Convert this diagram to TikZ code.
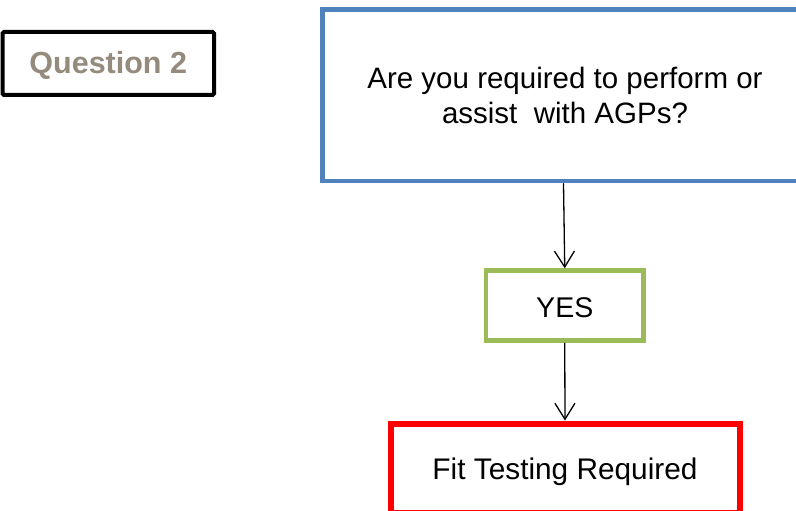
\documentclass[tikz,border=0pt]{standalone}
\usepackage{fontspec}
\setmainfont{Liberation Sans}
\usetikzlibrary{arrows.meta}
\definecolor{qbrown}{HTML}{948B7D}
\definecolor{qblue}{HTML}{4F81BD}
\definecolor{qgreen}{HTML}{9BBB59}
\definecolor{qred}{HTML}{FF0000}
\begin{document}
\begin{tikzpicture}[x=1pt,y=-1pt,
  box/.style={draw, rectangle, fill=white, inner sep=0pt},
  conn/.style={draw=black, line width=1.3pt, -{Straight Barb[length=16pt,width=20pt]}},
  bigtext/.style={font=\fontsize{29.5pt}{35pt}\selectfont}]
\useasboundingbox (0,0) rectangle (796,511);
\clip (0,0) rectangle (796,511);
\node[box, draw=black, line width=4pt, rounded corners=1.5pt,
      minimum width=211.5pt, minimum height=63pt, text=qbrown,
      font=\bfseries\fontsize{30.5pt}{35pt}\selectfont,
      text height=21pt, text depth=0pt] (q) at (108.25,63.5) {Question 2};
\node[box, draw=qblue, line width=4.5pt, minimum width=485pt, minimum height=171.5pt,
      align=center, bigtext] (blue) at (565,95.25)
      {Are you required to perform or\\assist\ \ with AGPs?};
\node[box, draw=qgreen, line width=4.5pt, minimum width=157.5pt, minimum height=70pt,
      font=\fontsize{28.5pt}{34pt}\selectfont, text height=23pt, text depth=0pt]
      (yes) at (564.75,305.5) {YES};
\node[box, draw=qred, line width=6pt, minimum width=349pt, minimum height=89.5pt,
      font=\fontsize{29.8pt}{35pt}\selectfont, text height=21.5pt, text depth=0pt]
      (fit) at (565,468.25) {Fit Testing Required};
\draw[conn] ([xshift=-1.5pt]blue.south) -- (yes.north);
\draw[conn] (yes.south) -- (fit.north);
\end{tikzpicture}
\end{document}
